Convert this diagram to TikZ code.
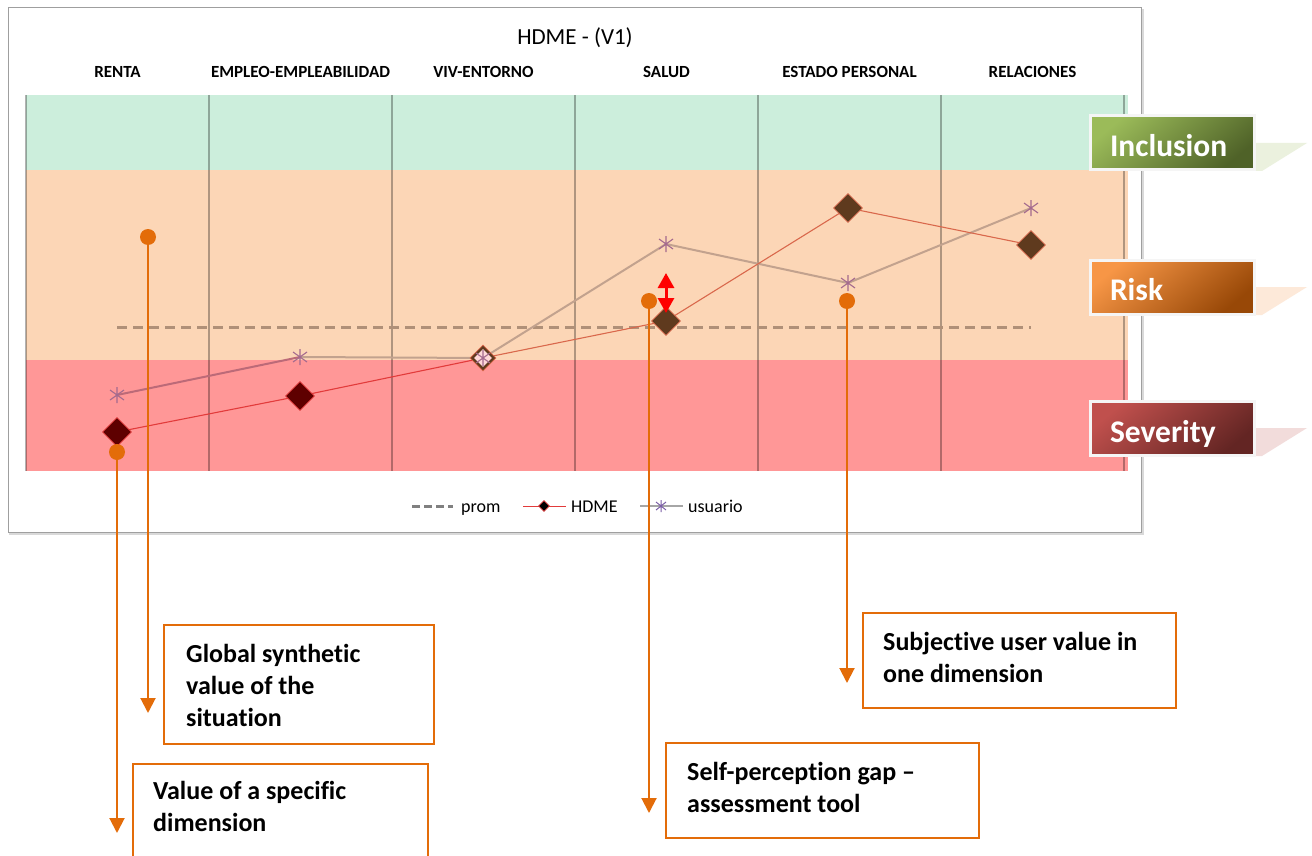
\documentclass[tikz,border=0pt]{standalone}
\usepackage{fontspec}
\setmainfont{Carlito}[Ligatures=NoCommon]
\usetikzlibrary{arrows.meta,shapes.geometric}

\definecolor{bandgreen}{HTML}{CCEEDC}
\definecolor{bandorange}{HTML}{FCD6B6}
\definecolor{bandred}{HTML}{FF9797}
\definecolor{callorange}{HTML}{E36C09}
\definecolor{hdmered}{HTML}{E23B3B}
\definecolor{hdmeorange}{HTML}{D9684C}
\definecolor{usrred}{HTML}{BC6A78}
\definecolor{usrtan}{HTML}{C2A28E}
\definecolor{starcol}{HTML}{A46A8E}
\definecolor{darkred}{HTML}{5E0000}
\definecolor{darkbrown}{HTML}{5F3A1E}
\definecolor{promcol}{HTML}{B09078}
\definecolor{inclA}{HTML}{9BBB59}
\definecolor{inclB}{HTML}{4F6228}
\definecolor{inclS}{HTML}{EBF1DE}
\definecolor{riskA}{HTML}{F79646}
\definecolor{riskB}{HTML}{984807}
\definecolor{riskS}{HTML}{FDE9D9}
\definecolor{sevA}{HTML}{C0504D}
\definecolor{sevB}{HTML}{632523}
\definecolor{sevS}{HTML}{F2DCDB}
\definecolor{legstar}{HTML}{7B5EA7}

\begin{document}
\begin{tikzpicture}[x=1pt,y=-1pt,
  hdr/.style={font=\fontsize{17}{19}\selectfont\bfseries, inner sep=0pt, anchor=base},
  hdmark/.style={diamond, aspect=1, minimum width=29pt, minimum height=29pt,
                 inner sep=0pt, draw=hdmeorange, line width=0.8pt},
  dot/.style={circle, fill=callorange, minimum size=16pt, inner sep=0pt},
  callarrow/.style={draw=callorange, line width=2pt, -{Triangle[width=15pt,length=15pt]}},
  callbox/.style={draw=callorange, line width=2pt},
  calltext/.style={font=\fontsize{26}{32}\selectfont\bfseries, inner sep=0pt, anchor=base west},
  lblbox/.style={minimum width=164pt, minimum height=54pt, draw=white!92!gray,
                 line width=3pt, inner xsep=20pt, text width=124pt, align=left,
                 text height=27pt, text depth=0pt, text=white,
                 font=\fontsize{31.5}{34}\selectfont\bfseries},
  legtext/.style={font=\fontsize{18}{20}\selectfont, inner sep=0pt, anchor=base west},
  usr/.pic={\draw[starcol, line width=1.1pt] (0,-8)--(0,8) (-7,-5)--(7,5) (-7,5)--(7,-5);},
  usrsmall/.pic={\draw[#1, line width=1pt] (0,-6)--(0,6) (-5,-4)--(5,4) (-5,4)--(5,-4);},
]
\clip (0,0) rectangle (1312,856);
\fill[white] (0,0) rectangle (1312,856);

% chart frame with a soft shadow
\draw[gray!30, line width=2pt] (10,10) rectangle (1143,534);
\draw[gray!75, fill=white, line width=1pt] (8,8) rectangle (1141,532);

% title and dimension headers
\node[font=\fontsize{23}{25}\selectfont, inner sep=0pt, anchor=base] (title) at (575,45) {HDME - (V1)};
\node[hdr] (c1) at (117.5,78) {RENTA};
\node[hdr] (c2) at (300.5,78) {EMPLEO-EMPLEABILIDAD};
\node[hdr] (c3) at (483.5,78) {VIV-ENTORNO};
\node[hdr] (c4) at (666.5,78) {SALUD};
\node[hdr] (c5) at (849.5,78) {ESTADO PERSONAL};
\node[hdr] (c6) at (1032.5,78) {RELACIONES};

% situation bands
\fill[bandgreen] (26,95) rectangle (1128,170);
\fill[bandorange] (26,170) rectangle (1128,360);
\fill[bandred] (26,360) rectangle (1128,471);
\foreach \gx in {26,209,392,575,758,941,1124}
  \draw[black, opacity=0.3, line width=1.2pt] (\gx,95) -- (\gx,471);

% average line
\draw[promcol, line width=3pt, dash pattern=on 10pt off 6pt] (117,327) -- (1031,327);

% data points
\coordinate (h1) at (117,432);
\coordinate (h2) at (300,396);
\coordinate (h3) at (483,358);
\coordinate (h4) at (666,321);
\coordinate (h5) at (848,208);
\coordinate (h6) at (1031,245);
\coordinate (u1) at (117,395);
\coordinate (u2) at (300,357);
\coordinate (u3) at (483,358);
\coordinate (u4) at (666,244);
\coordinate (u5) at (848,283);
\coordinate (u6) at (1031,208);

% user series
\draw[usrred, line width=2pt] (u1) -- (u2);
\draw[usrtan, line width=2pt] (u2) -- (u3) -- (u4) -- (u5) -- (u6);
% HDME series
\draw[hdmered, line width=1.1pt] (h1) -- (h2) -- (h3);
\draw[hdmeorange, line width=1.1pt] (h3) -- (h4) -- (h5) -- (h6);

% HDME markers
\node[hdmark, fill=darkred, draw=hdmered] (m1) at (h1) {};
\node[hdmark, fill=darkred, draw=hdmered] (m2) at (h2) {};
\node[hdmark, fill=darkbrown, minimum width=26pt, minimum height=26pt] (m3) at (h3) {};
\node[diamond, aspect=1, minimum width=18pt, minimum height=18pt, inner sep=0pt, fill=pink!60!white] (m3in) at (h3) {};
\node[hdmark, fill=darkbrown] (m4) at (h4) {};
\node[hdmark, fill=darkbrown] (m5) at (h5) {};
\node[hdmark, fill=darkbrown] (m6) at (h6) {};

% user markers
\foreach \p in {u1,u2,u3,u4,u5,u6} \pic at (\p) {usr};

% self-perception gap
\coordinate (g1) at (666,273);
\coordinate (g2) at (666,313);
\draw[red, line width=3pt, {Triangle[width=16pt,length=15pt]}-{Triangle[width=16pt,length=15pt]}] (g1) -- (g2);

% situation labels
\fill[inclS] (1254,143) -- (1307,143) -- (1262,171) -- (1254,171) -- cycle;
\fill[riskS] (1254,287) -- (1307,287) -- (1262,315) -- (1254,315) -- cycle;
\fill[sevS] (1254,428) -- (1307,428) -- (1262,456) -- (1254,456) -- cycle;
\node[lblbox, top color=inclA, bottom color=inclB, shading angle=40] (incl) at (1172,143) {Inclusion};
\node[lblbox, top color=riskA, bottom color=riskB, shading angle=40] (risk) at (1172,287) {Risk};
\node[lblbox, top color=sevA, bottom color=sevB, shading angle=40] (sev) at (1172,428.5) {Severity};

% legend
\coordinate (lp1) at (412,506); \coordinate (lp2) at (453,506);
\draw[gray, line width=3pt, dash pattern=on 8pt off 4pt] (lp1) -- (lp2);
\node[legtext] (lprom) at (461,512) {prom};
\coordinate (lh1) at (523,506); \coordinate (lh2) at (566,506);
\draw[hdmered, line width=1pt] (lh1) -- (lh2);
\node[diamond, aspect=1, minimum width=11pt, minimum height=11pt, inner sep=0pt, fill=black, draw=hdmered, line width=0.8pt] (lhm) at (544,506) {};
\node[legtext] (lhdme) at (571,512) {HDME};
\coordinate (lu1) at (640,506); \coordinate (lu2) at (683,506);
\draw[gray!70, line width=1.5pt] (lu1) -- (lu2);
\pic at (661,506) {usrsmall=legstar};
\node[legtext] (lusr) at (688,512) {usuario};

% callout markers and arrows
\node[dot] (d1) at (148,237) {};
\node[dot] (d2) at (117,452) {};
\node[dot] (d3) at (649,301) {};
\node[dot] (d4) at (847,301) {};
\coordinate (a1) at (148,713);
\coordinate (a2) at (117,833);
\coordinate (a3) at (649,813);
\coordinate (a4) at (847,683);
\draw[callarrow] (d1.center) -- (a1);
\draw[callarrow] (d2.center) -- (a2);
\draw[callarrow] (d3.center) -- (a3);
\draw[callarrow] (d4.center) -- (a4);

% callout boxes
\draw[callbox] (164,625) rectangle (434,744);
\node[calltext] (t1a) at (186,662) {Global synthetic};
\node[calltext] (t1b) at (186,694) {value of the};
\node[calltext] (t1c) at (186,726) {situation};

\draw[callbox] (133,764) rectangle (428,880);
\node[calltext] (t2a) at (153,799) {Value of a specific};
\node[calltext] (t2b) at (153,831) {dimension};

\draw[callbox] (666,743) rectangle (979,838);
\node[calltext] (t3a) at (687,780) {Self-perception gap –};
\node[calltext] (t3b) at (687,812) {assessment tool};

\draw[callbox] (863,613) rectangle (1176,708);
\node[calltext] (t4a) at (883,650) {Subjective user value in};
\node[calltext] (t4b) at (883,682) {one dimension};
\end{tikzpicture}
\end{document}
